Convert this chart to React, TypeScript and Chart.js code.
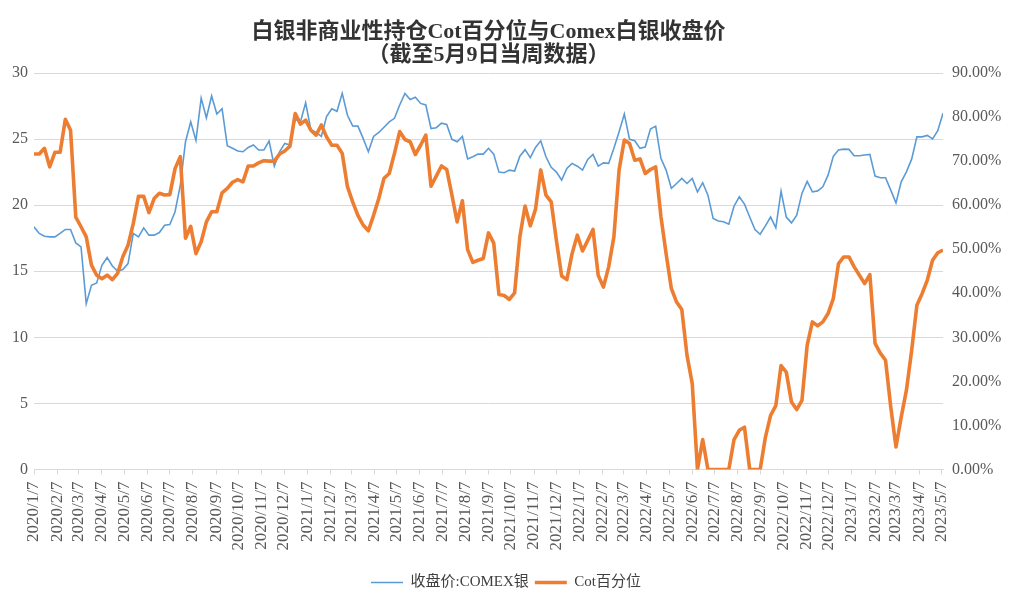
import React, { useEffect, useRef } from 'react';
import { Chart, registerables } from 'chart.js';

Chart.register(...registerables);

const titleLines = ['白银非商业性持仓Cot百分位与Comex白银收盘价', '（截至5月9日当周数据）'];
const seriesNames = ['收盘价:COMEX银', 'Cot百分位'];
const startDate = '2020/1/7';

const tickLabels = [
  '2020/1/7', '2020/2/7', '2020/3/7', '2020/4/7', '2020/5/7', '2020/6/7', '2020/7/7', '2020/8/7', '2020/9/7', '2020/10/7', '2020/11/7', '2020/12/7',
  '2021/1/7', '2021/2/7', '2021/3/7', '2021/4/7', '2021/5/7', '2021/6/7', '2021/7/7', '2021/8/7', '2021/9/7', '2021/10/7', '2021/11/7', '2021/12/7',
  '2022/1/7', '2022/2/7', '2022/3/7', '2022/4/7', '2022/5/7', '2022/6/7', '2022/7/7', '2022/8/7', '2022/9/7', '2022/10/7', '2022/11/7', '2022/12/7',
  '2023/1/7', '2023/2/7', '2023/3/7', '2023/4/7', '2023/5/7',
];

// weekly closing price, COMEX silver (left axis)
const comexClose = [
  18.36, 17.86, 17.65, 17.6, 17.6, 17.86, 18.16, 18.16, 17.14, 16.84,
  12.55, 13.94, 14.11, 15.45, 16.04, 15.4, 15.02, 15.13, 15.58, 17.86,
  17.6, 18.28, 17.73, 17.73, 17.93, 18.48, 18.54, 19.5, 21.5, 24.8,
  26.3, 24.9, 28.1, 26.6, 28.26, 26.9, 27.3, 24.5, 24.3, 24.1,
  24.04, 24.37, 24.55, 24.17, 24.17, 24.85, 22.95, 24.04, 24.67, 24.55,
  26.5, 26.3, 27.75, 25.7, 25.5, 25.2, 26.7, 27.3, 27.1, 28.46,
  26.8, 26.0, 25.98, 25.05, 24.04, 25.2, 25.5, 25.9, 26.3, 26.57,
  27.58, 28.46, 28.0, 28.16, 27.7, 27.58, 25.8, 25.86, 26.2, 26.1,
  24.98, 24.8, 25.2, 23.5, 23.66, 23.86, 23.86, 24.3, 23.86, 22.5,
  22.45, 22.65, 22.58, 23.7, 24.2, 23.6, 24.37, 24.87, 23.66, 22.86,
  22.5, 21.9, 22.78, 23.16, 22.95, 22.65, 23.46, 23.84, 22.95, 23.2,
  23.16, 24.3, 25.55, 26.9, 24.98, 24.87, 24.3, 24.4, 25.76, 25.98,
  23.54, 22.65, 21.27, 21.64, 22.02, 21.64, 22.02, 21.0, 21.7, 20.76,
  19.0, 18.8, 18.74, 18.56, 19.92, 20.63, 20.08, 19.1, 18.16, 17.8,
  18.43, 19.1, 18.28, 21.06, 19.1, 18.66, 19.24, 20.89, 21.8, 21.0,
  21.08, 21.39, 22.27, 23.7, 24.17, 24.24, 24.22, 23.74, 23.74, 23.79,
  23.84, 22.2, 22.07, 22.07, 21.14, 20.17, 21.77, 22.52, 23.48, 25.17,
  25.17, 25.28, 25.02, 25.63, 26.95,
];

// weekly COT percentile, % (right axis)
const cotPercentile = [
  71.6, 71.6, 72.9, 68.7, 72.0, 72.0, 79.5, 77.0, 57.3, 55.1,
  52.8, 46.4, 44.1, 43.3, 44.1, 43.1, 44.5, 48.3, 50.9, 55.8,
  62.0, 62.0, 58.3, 61.5, 62.7, 62.3, 62.4, 68.3, 71.0, 52.5,
  55.2, 49.0, 51.7, 56.2, 58.5, 58.5, 62.8, 63.8, 65.2, 65.8,
  65.3, 68.9, 68.9, 69.6, 70.1, 70.0, 70.0, 71.6, 72.3, 73.4,
  80.8, 78.4, 79.3, 77.0, 75.9, 78.2, 75.5, 73.6, 73.6, 71.75,
  64.2, 60.75, 57.7, 55.5, 54.2, 57.7, 61.5, 66.1, 67.2, 71.75,
  76.7, 74.9, 74.4, 71.5, 73.6, 75.9, 64.3, 66.6, 68.9, 68.1,
  62.3, 56.2, 61.0, 49.9, 47.0, 47.5, 47.9, 53.7, 51.4, 39.7,
  39.5, 38.6, 40.1, 52.8, 59.8, 55.3, 59.1, 68.0, 62.3, 60.75,
  52.0, 43.9, 43.1, 49.0, 53.2, 49.6, 52.0, 54.5, 44.1, 41.4,
  46.0, 52.8, 68.0, 74.8, 74.0, 70.2, 70.5, 67.2, 68.1, 68.7,
  57.5, 49.0, 41.1, 38.0, 36.3, 25.9, 19.5, 0, 6.8, 0,
  0, 0, 0, 0, 6.8, 8.9, 9.6, 0, 0, 0,
  7.3, 12.3, 14.5, 23.6, 22.1, 15.3, 13.6, 15.7, 28.2, 33.5,
  32.6, 33.5, 35.4, 38.8, 46.75, 48.25, 48.25, 46.0, 44.1, 42.2,
  44.25, 28.6, 26.4, 24.8, 14.2, 5.1, 11.9, 18.0, 27.0, 37.3,
  39.9, 43.0, 47.5, 49.2, 49.8,
];

const FONT = "'Liberation Serif', 'Noto Sans CJK SC', serif";
const TEXT = '#595959';
const GRID = '#d9d9d9';

function dayOffset(label: string): number {
  const [y, m, d] = label.split('/').map(Number);
  const [y0, m0, d0] = startDate.split('/').map(Number);
  return Math.round((Date.UTC(y, m - 1, d) - Date.UTC(y0, m0 - 1, d0)) / 86400000);
}

const titlePlugin = {
  id: 'centeredTitle',
  afterDraw(chart: any) {
    const { ctx, chartArea } = chart;
    const cx = (chartArea.left + chartArea.right) / 2;
    ctx.save();
    ctx.fillStyle = '#333333';
    ctx.textAlign = 'center';
    ctx.textBaseline = 'middle';
    ctx.font = `bold 22px ${FONT}`;
    ctx.fillText(titleLines[0], cx, 32);
    ctx.fillText(titleLines[1], cx, 55);
    ctx.restore();
  },
};

export default function App() {
  const ref = useRef<HTMLCanvasElement | null>(null);

  useEffect(() => {
    if (!ref.current) return;
    const lastDay = (comexClose.length - 1) * 7;
    const chart = new Chart(ref.current, {
      type: 'line',
      data: {
        datasets: [
          {
            label: seriesNames[0],
            data: comexClose.map((v, i) => ({ x: i * 7, y: v })),
            borderColor: '#5B9BD5',
            backgroundColor: '#5B9BD5',
            borderWidth: 1.6,
            pointRadius: 0,
            tension: 0,
            yAxisID: 'y',
            order: 1,
          },
          {
            label: seriesNames[1],
            data: cotPercentile.map((v, i) => ({ x: i * 7, y: v })),
            borderColor: '#ED7D31',
            backgroundColor: '#ED7D31',
            borderWidth: 3.6,
            pointRadius: 0,
            tension: 0,
            borderJoinStyle: 'round',
            yAxisID: 'y1',
            order: 0,
          },
        ],
      },
      options: {
        responsive: false,
        animation: false,
        layout: { padding: { top: 73, bottom: 2, left: 0, right: 0 } },
        plugins: {
          title: { display: false },
          tooltip: { enabled: false },
          legend: {
            position: 'bottom',
            labels: {
              usePointStyle: true,
              pointStyle: 'line',
              pointStyleWidth: 32,
              padding: 6,
              color: '#404040',
              font: { size: 15, family: FONT },
              sort: (a: any, b: any) => a.datasetIndex - b.datasetIndex,
            },
          },
        },
        scales: {
          x: {
            type: 'linear',
            min: 0,
            max: lastDay,
            afterBuildTicks: (s: any) => {
              s.ticks = tickLabels.map((l) => ({ value: dayOffset(l) }));
            },
            afterFit: (s: any) => {
              s.height = 99.5;
            },
            grid: { drawOnChartArea: false, drawTicks: true, tickLength: 5, color: GRID },
            border: { display: true, color: GRID },
            ticks: {
              autoSkip: false,
              minRotation: 90,
              maxRotation: 90,
              padding: 7,
              color: TEXT,
              font: { size: 17, family: FONT },
              callback: (_v: any, i: number) => tickLabels[i],
            },
          },
          y: {
            position: 'left',
            min: 0,
            max: 30,
            afterFit: (s: any) => {
              s.width = 34;
            },
            grid: { color: GRID, drawTicks: false },
            border: { display: false },
            ticks: { stepSize: 5, padding: 6, color: TEXT, font: { size: 16, family: FONT } },
          },
          y1: {
            position: 'right',
            min: 0,
            max: 90,
            afterFit: (s: any) => {
              s.width = 69;
            },
            grid: { display: false, drawTicks: false },
            border: { display: false },
            ticks: {
              stepSize: 10,
              padding: 9,
              color: TEXT,
              font: { size: 16, family: FONT },
              callback: (v: any) => Number(v).toFixed(2) + '%',
            },
          },
        },
      },
      plugins: [titlePlugin],
    } as any);
    return () => chart.destroy();
  }, []);

  return (
    <div style={{ position: 'absolute', left: 0, top: 0, width: 1012, height: 602, background: '#fff' }}>
      <canvas ref={ref} width={1012} height={602} style={{ width: 1012, height: 602, display: 'block' }} />
    </div>
  );
}
